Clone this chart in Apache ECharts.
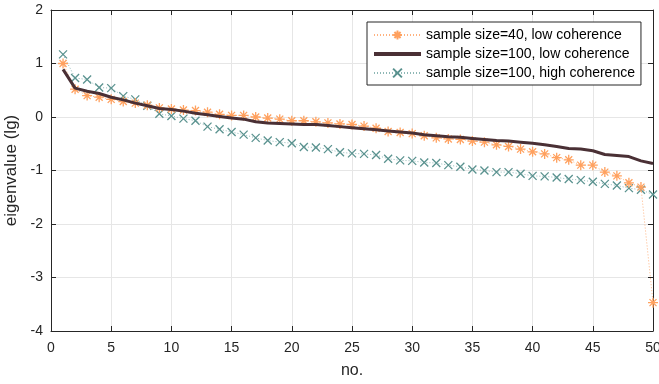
<!DOCTYPE html>
<html>
<head>
<meta charset="utf-8">
<script src="https://cdn.jsdelivr.net/npm/echarts@6/dist/echarts.min.js"></script>
<style>
  html, body { margin: 0; padding: 0; background: #fff; }
  #chart { width: 659px; height: 384px; }
</style>
</head>
<body>
<div id="chart"></div>
<script>
const seriesNames = [
  "sample size=40, low coherence",
  "sample size=100, low coherence",
  "sample size=100, high coherence",
];

// eigenvalue index 1..50
const idx = Array.from({ length: 50 }, (_, i) => i + 1);

const small40Low = [
  1.0, 0.52, 0.4, 0.37, 0.33, 0.29, 0.26, 0.22, 0.17, 0.15,
  0.13, 0.12, 0.09, 0.05, 0.03, 0.03, 0.0, -0.02, -0.04, -0.07,
  -0.07, -0.09, -0.11, -0.13, -0.14, -0.17, -0.21, -0.27, -0.29, -0.31,
  -0.35, -0.39, -0.41, -0.42, -0.45, -0.47, -0.52, -0.55, -0.6, -0.65,
  -0.69, -0.76, -0.8, -0.9, -0.9, -1.03, -1.1, -1.23, -1.31, -3.47,
];

const big100Low = [
  0.89, 0.54, 0.48, 0.44, 0.37, 0.32, 0.26, 0.21, 0.16, 0.14,
  0.11, 0.07, 0.04, 0.01, -0.02, -0.04, -0.09, -0.11, -0.12, -0.13,
  -0.14, -0.14, -0.16, -0.18, -0.2, -0.22, -0.24, -0.26, -0.28, -0.3,
  -0.33, -0.35, -0.37, -0.38, -0.4, -0.42, -0.44, -0.45, -0.47, -0.49,
  -0.52, -0.55, -0.59, -0.6, -0.63, -0.7, -0.72, -0.74, -0.82, -0.87,
];

const big100High = [
  1.17, 0.73, 0.7, 0.55, 0.54, 0.39, 0.33, 0.21, 0.06, 0.02,
  -0.03, -0.07, -0.18, -0.23, -0.28, -0.33, -0.39, -0.44, -0.47, -0.49,
  -0.56, -0.57, -0.6, -0.66, -0.68, -0.69, -0.71, -0.78, -0.81, -0.82,
  -0.85, -0.86, -0.9, -0.93, -0.98, -1.0, -1.03, -1.03, -1.06, -1.1,
  -1.11, -1.13, -1.16, -1.18, -1.21, -1.25, -1.28, -1.33, -1.36, -1.45,
];

const xTicks = { min: 0, max: 50, interval: 5 };
const yTicks = { min: -4, max: 2, interval: 1 };

const axisColor = "#262626";
const starPath = "path://M0,-10L0,10M-10,0L10,0M-7,-7L7,7M-7,7L7,-7";
const crossPath = "path://M-10,-10L10,10M-10,10L10,-10";

const pairs = (ys) => idx.map((x, i) => [x, ys[i]]);

const chart = echarts.init(document.getElementById("chart"), null, { renderer: "canvas" });

const baseAxis = {
  axisLine: { show: true, onZero: false, lineStyle: { color: axisColor, width: 1 } },
  axisTick: { show: true, inside: true, length: 5, lineStyle: { color: axisColor } },
  axisLabel: { color: axisColor, fontSize: 14, fontFamily: "Liberation Sans" },
};

chart.setOption({
  animation: false,
  textStyle: { fontFamily: "Liberation Sans" },
  grid: { left: 51, right: 6, top: 10, bottom: 53, containLabel: false, outerBoundsMode: "none" },
  legend: {
    orient: "vertical",
    left: 367,
    top: 22,
    padding: [6, 6, 5, 5],
    itemGap: 5,
    itemWidth: 47,
    itemHeight: 11,
    backgroundColor: "#fff",
    borderColor: axisColor,
    borderWidth: 1,
    textStyle: { color: "#000", fontSize: 14, lineHeight: 14, fontFamily: "Liberation Sans" },
    data: [
      { name: seriesNames[0] },
      { name: seriesNames[1], itemStyle: { opacity: 0 }, lineStyle: { width: 4 } },
      { name: seriesNames[2] },
    ],
  },
  xAxis: [
    {
      ...baseAxis,
      type: "value",
      ...xTicks,
      name: "no.",
      nameLocation: "middle",
      nameGap: 32,
      nameTextStyle: { color: axisColor, fontSize: 16 },
      axisLabel: { ...baseAxis.axisLabel, margin: 10 },
      splitLine: { show: true, lineStyle: { color: "#e6e6e6" } },
    },
    {
      ...baseAxis,
      type: "value",
      position: "top",
      ...xTicks,
      axisLabel: { show: false },
      splitLine: { show: false },
    },
  ],
  yAxis: [
    {
      ...baseAxis,
      type: "value",
      ...yTicks,
      name: "eigenvalue (lg)",
      nameLocation: "middle",
      nameGap: 25,
      nameTextStyle: { color: axisColor, fontSize: 17 },
      axisLabel: { ...baseAxis.axisLabel, margin: 8 },
      splitLine: { show: true, lineStyle: { color: "#e6e6e6" } },
    },
    {
      ...baseAxis,
      type: "value",
      position: "right",
      ...yTicks,
      axisLabel: { show: false },
      splitLine: { show: false },
    },
  ],
  series: [
    {
      name: seriesNames[0],
      type: "line",
      data: pairs(small40Low),
      clip: false,
      symbol: starPath,
      symbolSize: 10,
      showAllSymbol: true,
      lineStyle: { color: "#ffb27f", width: 1, type: [1, 2] },
      itemStyle: { color: "rgba(0,0,0,0)", borderColor: "#ffa15f", borderWidth: 1.3 },
      z: 3,
    },
    {
      name: seriesNames[1],
      type: "line",
      data: pairs(big100Low),
      symbol: "none",
      lineStyle: { color: "#4a3035", width: 3 },
      itemStyle: { color: "#4a3035" },
      z: 4,
    },
    {
      name: seriesNames[2],
      type: "line",
      data: pairs(big100High),
      clip: false,
      symbol: crossPath,
      symbolSize: 8,
      showAllSymbol: true,
      lineStyle: { color: "#8fb8b6", width: 1, type: [1, 2] },
      itemStyle: { color: "rgba(0,0,0,0)", borderColor: "#5a928f", borderWidth: 1.3 },
      z: 2,
    },
  ],
});
</script>
</body>
</html>
